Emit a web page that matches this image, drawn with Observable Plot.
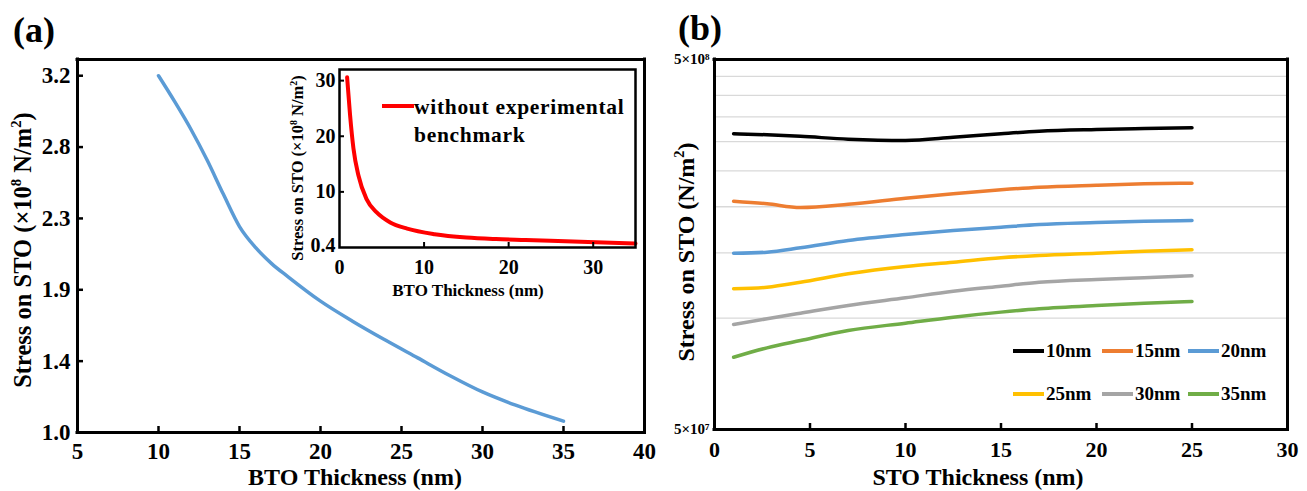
<!DOCTYPE html>
<html><head><meta charset="utf-8">
<script src="https://cdn.jsdelivr.net/npm/d3@7"></script>
<script src="https://cdn.jsdelivr.net/npm/@observablehq/plot@0.6"></script>
<style>
body{margin:0;background:#fff;}
#wrap{position:relative;width:1307px;height:491px;overflow:hidden;font-family:"Liberation Serif","Times New Roman",serif;font-weight:bold;color:#000;}
.plot{position:absolute;}
.lab{position:absolute;white-space:nowrap;transform:translate(-50%,-50%);line-height:1;}
.vlab{position:absolute;white-space:nowrap;transform:translate(-50%,-50%) rotate(-90deg);line-height:1;}
.sup{font-size:0.6em;vertical-align:0.65em;}
.leg{position:absolute;display:grid;grid-template-columns:89px 86px 86px;row-gap:21px;font-size:19px;}
.leg div{display:flex;align-items:center;}
.leg i{display:inline-block;width:31px;height:4px;margin-right:2px;}
</style></head>
<body><div id="wrap"></div>
<script>
// ---------- Panel (a) main curve ----------
const btoThickness = [10, 11, 12, 13, 14, 15, 16, 17, 18, 20, 22, 24, 26, 28, 30, 32, 35];
const stressA = [3.20, 3.04, 2.87, 2.68, 2.47, 2.27, 2.14, 2.04, 1.96, 1.81, 1.685, 1.57, 1.46, 1.35, 1.25, 1.17, 1.07];
const xTicksA = [5, 10, 15, 20, 25, 30, 35, 40];
const yTicksA = [1.0, 1.44, 1.88, 2.32, 2.76, 3.2];
const xDomainA = [5, 40];
const yDomainA = [1, 3.3];

// ---------- Panel (a) inset ----------
const insetThickness = [0.9, 1.25, 1.65, 2.25, 3.2, 4.4, 6, 8, 11.25, 15, 18.5, 22, 28.5, 35];
const insetStress = [30.6, 23.8, 17.8, 12.9, 8.7, 6.3, 4.5, 3.4, 2.4, 1.8, 1.52, 1.35, 1.03, 0.72];
const insetXTicks = [0, 10, 20, 30];
const insetYTicks = [0.4, 10, 20, 30];
const insetLegend = ["without experimental", "benchmark"];

// ---------- Panel (b) ----------
const stoThickness = [1, 2.75, 4.5, 7, 10, 12.5, 15, 17, 20, 22.5, 25];
const s10nm = [3.15e8, 3.13e8, 3.10e8, 3.045e8, 3.02e8, 3.08e8, 3.15e8, 3.20e8, 3.235e8, 3.255e8, 3.27e8];
const s15nm = [2.07e8, 2.037e8, 1.99e8, 2.03e8, 2.107e8, 2.167e8, 2.222e8, 2.258e8, 2.287e8, 2.307e8, 2.316e8];
const s20nm = [1.498e8, 1.507e8, 1.549e8, 1.621e8, 1.682e8, 1.725e8, 1.761e8, 1.791e8, 1.813e8, 1.828e8, 1.836e8];
const s25nm = [1.200e8, 1.212e8, 1.250e8, 1.318e8, 1.379e8, 1.416e8, 1.456e8, 1.477e8, 1.498e8, 1.517e8, 1.530e8];
const s30nm = [0.961e8, 0.996e8, 1.031e8, 1.082e8, 1.135e8, 1.182e8, 1.220e8, 1.250e8, 1.272e8, 1.285e8, 1.301e8];
const s35nm = [0.784e8, 0.831e8, 0.870e8, 0.926e8, 0.969e8, 1.006e8, 1.038e8, 1.060e8, 1.082e8, 1.097e8, 1.109e8];
const seriesNames = ["10nm", "15nm", "20nm", "25nm", "30nm", "35nm"];
const seriesValues = [s10nm, s15nm, s20nm, s25nm, s30nm, s35nm];
const seriesColors = ["#000000", "#ED7D31", "#5B9BD5", "#FFC000", "#A5A5A5", "#70AD47"];
const xTicksB = [0, 5, 10, 15, 20, 25, 30];
const xInnerTicksB = [5, 10, 15, 20, 25];
const yTicksB = [5e7, 5e8];
const yGridB = [1e8, 1.5e8, 2e8, 2.5e8, 3e8, 3.5e8, 4e8, 4.5e8];
const xDomainB = [0, 30];
const yDomainB = [5e7, 5e8];

const FONT = "'Liberation Serif','Times New Roman',serif";
const wrap = document.getElementById("wrap");
function place(node, left, top) {
  const d = document.createElement("div");
  d.className = "plot"; d.style.left = left + "px"; d.style.top = top + "px";
  d.appendChild(node); wrap.appendChild(d);
}
function addHTML(html) { wrap.insertAdjacentHTML("beforeend", html); }
// axis-box edges drawn as rules at the domain ends
const box = (xd, yd, w) => [
  Plot.ruleX(xd, {stroke: "#000", strokeWidth: w, strokeLinecap: "square"}),
  Plot.ruleY(yd, {stroke: "#000", strokeWidth: w, strokeLinecap: "square"})
];
// inward tick marks as short rules
const tickRulesX = (t, innerH, len, w) => Plot.ruleX(t, {stroke: "#000", strokeWidth: w, insetTop: innerH - len});
const tickRulesY = (t, innerW, len, w) => Plot.ruleY(t, {stroke: "#000", strokeWidth: w, insetRight: innerW - len});

// ---- Panel (a) ----
const dataA = btoThickness.map((x, i) => ({x, y: stressA[i]}));
place(Plot.plot({
  width: 660, height: 491,
  marginLeft: 77, marginRight: 16, marginTop: 59, marginBottom: 59,
  style: {fontFamily: FONT, fontWeight: "bold", fontSize: "23px", color: "#000", background: "transparent"},
  x: {domain: xDomainA},
  y: {domain: yDomainA},
  marks: [
    Plot.line(dataA, {x: "x", y: "y", stroke: "#5B9BD5", strokeWidth: 3.5, curve: "monotone-x"}),
    Plot.axisX(xTicksA, {tickSize: 0, tickPadding: 10, label: null, fontSize: 23}),
    Plot.axisY(yTicksA, {tickSize: 0, tickPadding: 7, tickFormat: d => d.toFixed(1), label: null, fontSize: 23}),
    tickRulesX(xTicksA, 373, 6, 2.5),
    tickRulesY(yTicksA, 567, 6, 2.5),
    ...box(xDomainA, yDomainA, 3),
    Plot.frame({stroke: "#000", strokeWidth: 3})
  ]
}), 0, 0);

// ---- Inset ----
const dataI = insetThickness.map((x, i) => ({x, y: insetStress[i]}));
place(Plot.plot({
  width: 370, height: 250,
  marginLeft: 59, marginRight: 15, marginTop: 9, marginBottom: 63,
  style: {fontFamily: FONT, fontWeight: "bold", fontSize: "20px", color: "#000", background: "transparent"},
  x: {domain: [0, 35]},
  y: {domain: [0, 32]},
  marks: [
    Plot.frame({fill: "#fff"}),
    Plot.line(dataI, {x: "x", y: "y", stroke: "#ff0000", strokeWidth: 4, curve: "monotone-x"}),
    Plot.axisX(insetXTicks, {tickSize: 0, tickPadding: 12, label: null, fontSize: 20}),
    Plot.axisY(insetYTicks, {tickSize: 0, tickPadding: 4, label: null, fontSize: 20, tickFormat: d => String(d)}),
    tickRulesX(insetXTicks.slice(1), 178, 5, 2),
    tickRulesY(insetYTicks.slice(1), 296, 5, 2),
    Plot.frame({stroke: "#000", strokeWidth: 2.5})
  ]
}), 280, 60);

// ---- Panel (b) ----
const dataB = seriesNames.flatMap((name, k) => stoThickness.map((x, i) => ({series: name, x, y: seriesValues[k][i]})));
place(Plot.plot({
  width: 647, height: 491,
  marginLeft: 54, marginRight: 20, marginTop: 59, marginBottom: 62,
  style: {fontFamily: FONT, fontWeight: "bold", fontSize: "22px", color: "#000", background: "transparent"},
  x: {domain: xDomainB},
  y: {type: "log", domain: yDomainB},
  color: {domain: seriesNames, range: seriesColors},
  marks: [
    Plot.gridY(yGridB, {stroke: "#d9d9d9", strokeOpacity: 1, strokeWidth: 1.3}),
    Plot.line(dataB, {x: "x", y: "y", z: "series", stroke: "series", strokeWidth: 3.5, curve: "monotone-x"}),
    Plot.axisX(xTicksB, {tickSize: 0, tickPadding: 12, label: null, fontSize: 22}),
    Plot.axisY(yTicksB, {tickSize: 0, tickPadding: 5, label: null, fontSize: 15,
      tickFormat: d => d === 5e8 ? "5×10⁸" : "5×10⁷"}),
    tickRulesX(xInnerTicksB, 370, 6, 2.5),
    ...box(xDomainB, yDomainB, 3),
    Plot.frame({stroke: "#000", strokeWidth: 3})
  ]
}), 660, 0);

// ---- Texts ----
addHTML(`<div class="lab" style="left:34px;top:30px;font-size:36px">(a)</div>`);
addHTML(`<div class="lab" style="left:700px;top:28px;font-size:36px">(b)</div>`);
addHTML(`<div class="lab" style="left:355px;top:477px;font-size:24px">BTO Thickness (nm)</div>`);
addHTML(`<div class="vlab" style="left:22px;top:250px;font-size:24.5px">Stress on STO (×10<span class="sup">8</span> N/m<span class="sup">2</span>)</div>`);
addHTML(`<div class="lab" style="left:978px;top:477px;font-size:24px">STO Thickness (nm)</div>`);
addHTML(`<div class="vlab" style="left:685px;top:252px;font-size:24px">Stress on STO (N/m<span class="sup">2</span>)</div>`);
addHTML(`<div class="lab" style="left:468px;top:290px;font-size:17px">BTO Thickness (nm)</div>`);
addHTML(`<div class="vlab" style="left:298px;top:168px;font-size:16.5px">Stress on STO (×10<span class="sup">8</span> N/m<span class="sup">2</span>)</div>`);
addHTML(`<div style="position:absolute;left:382px;top:104px;width:32px;height:4px;background:#ff0000"></div>`);
addHTML(`<div style="position:absolute;left:414px;top:93px;font-size:21.5px;letter-spacing:0.7px;line-height:28px">${insetLegend[0]}<br>${insetLegend[1]}</div>`);
addHTML(`<div class="leg" style="left:1013px;top:340px">${seriesNames.map((n, k) =>
  `<div><i style="background:${seriesColors[k]}"></i>${n}</div>`).join("")}</div>`);
</script>
</body></html>
